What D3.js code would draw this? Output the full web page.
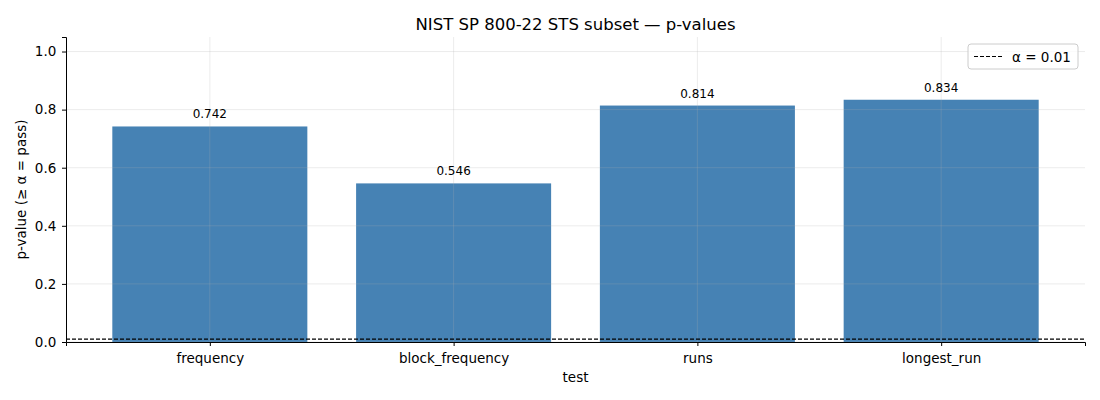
<!DOCTYPE html>
<html lang="en">
<head>
<meta charset="UTF-8">
<title>NIST SP 800-22 STS subset</title>
<script src="https://d3js.org/d3.v7.min.js"></script>
<style>
    body { margin: 0; background: #fff; }
    text { font-family: "DejaVu Sans", sans-serif; fill: #000; }
</style>
</head>
<body>
<svg width="1100" height="400"></svg>
<script>
    // data
    const tests = ["frequency", "block_frequency", "runs", "longest_run"];
    const pvalues = [0.742, 0.546, 0.814, 0.834];
    const yTicks = [0.0, 0.2, 0.4, 0.6, 0.8, 1.0];
    const alpha = 0.01;

    const margin = { top: 37, right: 15, bottom: 58, left: 66 };
    const width = 1100, height = 400;

    const svg = d3.select("svg");

    // matplotlib-ish x limits: bars of width 0.8 plus 5% margin
    const x = d3.scaleLinear()
        .domain([-0.59, tests.length - 1 + 0.59])
        .range([margin.left, width - margin.right]);
    const y = d3.scaleLinear()
        .domain([0, 1.05])
        .range([height - margin.bottom, margin.top]);

    const barW = x(0.8) - x(0);

    // bars
    svg.append("g").selectAll("rect")
        .data(pvalues)
        .enter()
        .append("rect")
        .attr("x", (d, i) => x(i - 0.4))
        .attr("y", d => y(d))
        .attr("width", barW)
        .attr("height", d => y(0) - y(d))
        .attr("fill", "#4682b4");

    // grid (drawn over bars, faint)
    const grid = svg.append("g");
    grid.selectAll(".gy")
        .data(yTicks)
        .enter()
        .append("line")
        .attr("x1", margin.left).attr("x2", width - margin.right)
        .attr("y1", d => y(d)).attr("y2", d => y(d))
        .attr("stroke", "#b0b0b0").attr("stroke-opacity", 0.3).attr("stroke-width", 0.8);
    grid.selectAll(".gx")
        .data(tests)
        .enter()
        .append("line")
        .attr("x1", (d, i) => x(i)).attr("x2", (d, i) => x(i))
        .attr("y1", margin.top).attr("y2", height - margin.bottom)
        .attr("stroke", "#b0b0b0").attr("stroke-opacity", 0.3).attr("stroke-width", 0.8);

    // value labels
    svg.append("g").selectAll("text")
        .data(pvalues)
        .enter()
        .append("text")
        .attr("x", (d, i) => x(i))
        .attr("y", d => y(d) - 8)
        .attr("text-anchor", "middle")
        .attr("font-size", "12px")
        .text(d => d.toFixed(3));

    // alpha line
    svg.append("line")
        .attr("x1", margin.left).attr("x2", width - margin.right)
        .attr("y1", y(alpha)).attr("y2", y(alpha))
        .attr("stroke", "#000").attr("stroke-width", 1.2)
        .attr("stroke-dasharray", "4,2");

    // axes
    const xAxis = svg.append("g")
        .attr("transform", `translate(0,${height - margin.bottom})`)
        .call(d3.axisBottom(x).tickValues(d3.range(tests.length)).tickFormat(i => tests[i]).tickSizeOuter(0).tickSize(4));
    const yAxis = svg.append("g")
        .attr("transform", `translate(${margin.left},0)`)
        .call(d3.axisLeft(y).tickValues(yTicks).tickFormat(d3.format(".1f")).tickSizeOuter(0).tickSize(4));

    [xAxis, yAxis].forEach(a => {
        a.selectAll("text").attr("font-size", "13.5px").attr("font-family", "DejaVu Sans, sans-serif").attr("fill", "#000");
        a.select(".domain").attr("stroke", "#000").attr("stroke-width", 1);
        a.selectAll(".tick line").attr("stroke", "#000");
    });
    xAxis.selectAll("text").attr("dy", "1.05em");
    yAxis.selectAll("text").attr("dx", "-0.2em");

    // titles
    svg.append("text")
        .attr("x", (margin.left + width - margin.right) / 2)
        .attr("y", 30)
        .attr("text-anchor", "middle")
        .attr("font-size", "16.5px")
        .text("NIST SP 800-22 STS subset — p-values");

    svg.append("text")
        .attr("x", (margin.left + width - margin.right) / 2)
        .attr("y", 382)
        .attr("text-anchor", "middle")
        .attr("font-size", "13.5px")
        .text("test");

    svg.append("text")
        .attr("transform", `translate(26,${(margin.top + height - margin.bottom) / 2}) rotate(-90)`)
        .attr("text-anchor", "middle")
        .attr("font-size", "13.5px")
        .text("p-value (≥ α = pass)");

    // legend
    const lg = svg.append("g").attr("transform", "translate(968,44)");
    lg.append("rect")
        .attr("width", 110).attr("height", 25).attr("rx", 3)
        .attr("fill", "#fff").attr("fill-opacity", 0.8)
        .attr("stroke", "#ccc");
    lg.append("line")
        .attr("x1", 6).attr("x2", 34).attr("y1", 12.5).attr("y2", 12.5)
        .attr("stroke", "#000").attr("stroke-width", 1.2).attr("stroke-dasharray", "4,2");
    lg.append("text")
        .attr("x", 44).attr("y", 17.5)
        .attr("font-size", "13.5px")
        .text("α = 0.01");
</script>
</body>
</html>
